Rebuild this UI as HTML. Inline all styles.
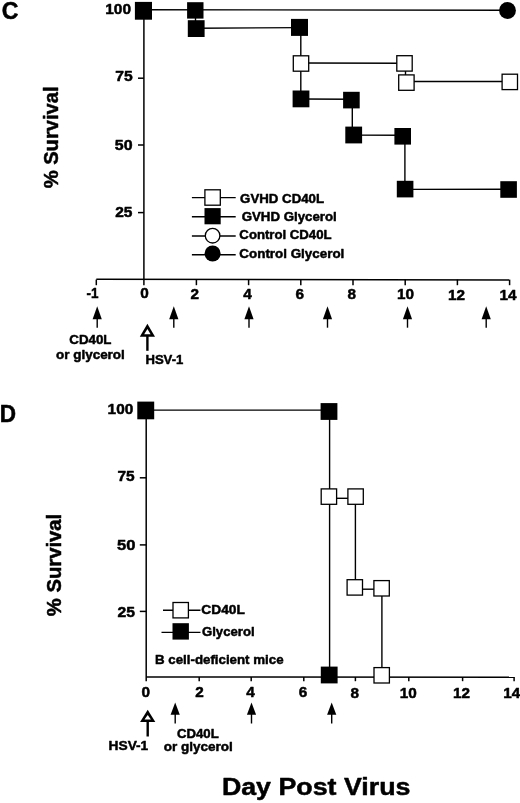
<!DOCTYPE html>
<html><head><meta charset="utf-8"><title>Survival</title>
<style>
html,body{margin:0;padding:0;background:#fff;}
svg{display:block;}
text{font-family:"Liberation Sans", Arial, Helvetica, sans-serif;font-weight:bold;fill:#000;stroke:#000;stroke-width:0.5px;stroke-linejoin:round;}
.l{stroke:#000;stroke-width:1.4;fill:none;}
.ax{stroke:#000;stroke-width:1.5;fill:none;}
.fs{fill:#000;stroke:none;}
.os{fill:#fff;stroke:#000;stroke-width:1.3;}
</style></head><body>
<svg width="520" height="803" viewBox="0 0 520 803">
<rect width="520" height="803" fill="#fff"/>
<text transform="translate(1.67,19.20) scale(0.9740,1)" font-size="23.8">C</text>
<line class="ax" x1="143.9" y1="9.5" x2="143.9" y2="285.2"/>
<line class="ax" x1="96.3" y1="279.3" x2="509.5" y2="279.9"/>
<line class="ax" x1="96.3" y1="279.6" x2="96.3" y2="285.2"/>
<line class="ax" x1="196.4" y1="279.6" x2="196.4" y2="285.2"/>
<line class="ax" x1="248.6" y1="279.6" x2="248.6" y2="285.2"/>
<line class="ax" x1="300.8" y1="279.6" x2="300.8" y2="285.2"/>
<line class="ax" x1="353.0" y1="279.6" x2="353.0" y2="285.2"/>
<line class="ax" x1="405.2" y1="279.6" x2="405.2" y2="285.2"/>
<line class="ax" x1="457.4" y1="279.6" x2="457.4" y2="285.2"/>
<line class="ax" x1="509.6" y1="279.6" x2="509.6" y2="285.2"/>
<line class="ax" x1="138.0" y1="78.2" x2="143.9" y2="78.2"/>
<line class="ax" x1="138.0" y1="145.0" x2="143.9" y2="145.0"/>
<line class="ax" x1="138.0" y1="212.6" x2="143.9" y2="212.6"/>
<text transform="translate(105.27,14.10) scale(1.0303,1)" font-size="15.0">100</text>
<text transform="translate(115.37,81.00) scale(1.0451,1)" font-size="15.0">75</text>
<text transform="translate(114.82,150.30) scale(1.0642,1)" font-size="15.0">50</text>
<text transform="translate(115.13,217.10) scale(1.0352,1)" font-size="15.0">25</text>
<text transform="translate(86.60,298.30) scale(0.8964,1)" font-size="15.0">-1</text>
<text transform="translate(140.29,298.40) scale(1.0200,1)" font-size="15.0">0</text>
<text transform="translate(190.59,298.60) scale(1.0200,1)" font-size="15.0">2</text>
<text transform="translate(243.34,298.80) scale(1.0200,1)" font-size="15.0">4</text>
<text transform="translate(295.59,299.00) scale(1.0200,1)" font-size="15.0">6</text>
<text transform="translate(347.42,299.20) scale(1.0200,1)" font-size="15.0">8</text>
<text transform="translate(396.91,299.41) scale(1.0200,1)" font-size="15.0">10</text>
<text transform="translate(447.91,299.60) scale(1.0200,1)" font-size="15.0">12</text>
<text transform="translate(499.60,299.80) scale(1.0200,1)" font-size="15.0">14</text>
<text transform="translate(57.70,188.30) rotate(-90) scale(1.0070,1)" font-size="20.0">% Survival</text>
<line class="l" x1="143.9" y1="9.7" x2="507.0" y2="10.3"/>
<line class="l" x1="195.5" y1="10.0" x2="195.5" y2="28.6"/>
<line class="l" x1="196.0" y1="28.3" x2="300.0" y2="27.6"/>
<line class="l" x1="300.8" y1="27.0" x2="300.8" y2="100.0"/>
<line class="l" x1="301.0" y1="99.0" x2="351.5" y2="99.2"/>
<line class="l" x1="352.3" y1="100.0" x2="352.3" y2="135.0"/>
<line class="l" x1="353.0" y1="135.1" x2="403.0" y2="135.3"/>
<line class="l" x1="404.9" y1="136.0" x2="404.9" y2="189.0"/>
<line class="l" x1="405.0" y1="189.4" x2="508.0" y2="189.3"/>
<line class="l" x1="301.0" y1="63.0" x2="404.0" y2="63.2"/>
<line class="l" x1="405.5" y1="63.0" x2="405.5" y2="82.0"/>
<line class="l" x1="406.0" y1="81.5" x2="509.0" y2="81.5"/>
<rect class="fs" x="134.9" y="1.9" width="17.1" height="17.8"/>
<rect class="fs" x="187.1" y="2.2" width="16.4" height="16.4"/>
<rect class="fs" x="187.8" y="20.2" width="16.8" height="16.8"/>
<rect class="fs" x="291.0" y="18.9" width="17.0" height="17.0"/>
<rect class="fs" x="292.6" y="90.5" width="16.8" height="16.8"/>
<rect class="fs" x="343.1" y="91.8" width="16.6" height="16.6"/>
<rect class="fs" x="345.3" y="126.6" width="16.8" height="16.8"/>
<rect class="fs" x="394.4" y="128.0" width="16.6" height="16.6"/>
<rect class="fs" x="396.8" y="180.8" width="16.6" height="16.6"/>
<rect class="fs" x="500.3" y="181.2" width="16.6" height="16.6"/>
<rect class="os" x="293.3" y="55.8" width="15.4" height="15.4"/>
<rect class="os" x="396.8" y="55.7" width="15.4" height="15.4"/>
<rect class="os" x="398.7" y="74.9" width="15.4" height="15.4"/>
<rect class="os" x="502.1" y="74.2" width="15.4" height="15.4"/>
<circle cx="507.5" cy="10.5" r="8.4" fill="#000"/>
<line class="l" x1="191.9" y1="197.6" x2="235.7" y2="197.6"/>
<text transform="translate(240.07,202.70) scale(0.9835,1)" font-size="13.5">GVHD CD40L</text>
<line class="l" x1="191.9" y1="216.8" x2="235.7" y2="216.8"/>
<text transform="translate(241.67,221.00) scale(0.9840,1)" font-size="13.5">GVHD Glycerol</text>
<line class="l" x1="191.9" y1="236.0" x2="235.7" y2="236.0"/>
<text transform="translate(239.37,238.90) scale(0.9767,1)" font-size="13.5">Control CD40L</text>
<line class="l" x1="191.9" y1="254.8" x2="235.7" y2="254.8"/>
<text transform="translate(239.36,257.70) scale(0.9932,1)" font-size="13.5">Control Glycerol</text>
<rect class="os" x="204.9" y="189.8" width="15.4" height="15.4"/>
<rect class="fs" x="204.5" y="208.1" width="16.2" height="16.2"/>
<circle cx="212.6" cy="235.7" r="7.3" class="os"/>
<circle cx="212.6" cy="253.5" r="8" fill="#000"/>
<path d="M97.2 306.3 L92.6 319.2 L101.8 319.2 Z" fill="#000"/>
<line class="l" x1="97.2" y1="318.2" x2="97.2" y2="327.7"/>
<path d="M173.8 306.3 L169.2 319.2 L178.4 319.2 Z" fill="#000"/>
<line class="l" x1="173.8" y1="318.2" x2="173.8" y2="327.7"/>
<path d="M249.0 306.3 L244.4 319.2 L253.6 319.2 Z" fill="#000"/>
<line class="l" x1="249.0" y1="318.2" x2="249.0" y2="327.7"/>
<path d="M327.5 306.3 L322.9 319.2 L332.1 319.2 Z" fill="#000"/>
<line class="l" x1="327.5" y1="318.2" x2="327.5" y2="327.7"/>
<path d="M407.5 306.3 L402.9 319.2 L412.1 319.2 Z" fill="#000"/>
<line class="l" x1="407.5" y1="318.2" x2="407.5" y2="327.7"/>
<path d="M486.2 306.3 L481.6 319.2 L490.8 319.2 Z" fill="#000"/>
<line class="l" x1="486.2" y1="318.2" x2="486.2" y2="327.7"/>
<line x1="147.4" y1="335.6" x2="147.4" y2="350.8" stroke="#000" stroke-width="2.4"/>
<path d="M147.4 323.7 L139.8 336.8 L155.0 336.8 Z" fill="#000"/>
<path d="M147.4 329.0 L144.2 334.3 L150.6 334.3 Z" fill="#fff"/>
<text transform="translate(69.27,343.80) scale(0.9871,1)" font-size="13.5">CD40L</text>
<text transform="translate(56.00,358.60) scale(0.9985,1)" font-size="13.5">or glycerol</text>
<text transform="translate(145.41,364.00) scale(0.9722,1)" font-size="13.5">HSV-1</text>
<text transform="translate(-0.15,422.20) scale(0.9470,1)" font-size="23.8">D</text>
<line class="ax" x1="146.2" y1="410.0" x2="146.2" y2="681.2"/>
<line class="ax" x1="146.2" y1="676.9" x2="514.2" y2="677.3"/>
<line class="ax" x1="199.2" y1="677.0" x2="199.2" y2="681.2"/>
<line class="ax" x1="251.2" y1="677.0" x2="251.2" y2="681.2"/>
<line class="ax" x1="303.8" y1="677.0" x2="303.8" y2="681.2"/>
<line class="ax" x1="355.4" y1="677.0" x2="355.4" y2="681.2"/>
<line class="ax" x1="408.8" y1="677.0" x2="408.8" y2="681.2"/>
<line class="ax" x1="462.6" y1="677.0" x2="462.6" y2="681.2"/>
<line class="ax" x1="514.1" y1="677.0" x2="514.1" y2="681.2"/>
<line class="ax" x1="139.8" y1="477.8" x2="146.2" y2="477.8"/>
<line class="ax" x1="139.8" y1="544.9" x2="146.2" y2="544.9"/>
<line class="ax" x1="139.8" y1="611.4" x2="146.2" y2="611.4"/>
<text transform="translate(107.58,413.50) scale(1.0400,1)" font-size="14.8">100</text>
<text transform="translate(117.38,480.80) scale(1.0463,1)" font-size="14.8">75</text>
<text transform="translate(117.10,549.90) scale(1.1174,1)" font-size="14.8">50</text>
<text transform="translate(117.53,616.60) scale(1.0620,1)" font-size="14.8">25</text>
<text transform="translate(141.39,697.00) scale(1.0200,1)" font-size="15.0">0</text>
<text transform="translate(195.19,697.13) scale(1.0200,1)" font-size="15.0">2</text>
<text transform="translate(246.24,697.26) scale(1.0200,1)" font-size="15.0">4</text>
<text transform="translate(298.79,697.38) scale(1.0200,1)" font-size="15.0">6</text>
<text transform="translate(350.52,697.51) scale(1.0200,1)" font-size="15.0">8</text>
<text transform="translate(399.81,697.64) scale(1.0200,1)" font-size="15.0">10</text>
<text transform="translate(453.11,697.77) scale(1.0200,1)" font-size="15.0">12</text>
<text transform="translate(503.30,697.90) scale(1.0200,1)" font-size="15.0">14</text>
<text transform="translate(61.00,616.20) rotate(-90) scale(1.0120,1)" font-size="20.0">% Survival</text>
<line class="l" x1="146.2" y1="410.1" x2="329.0" y2="410.1"/>
<line class="l" x1="329.6" y1="410.0" x2="329.6" y2="675.0"/>
<line class="l" x1="329.0" y1="498.3" x2="355.5" y2="498.3"/>
<line class="l" x1="355.4" y1="497.0" x2="355.4" y2="588.0"/>
<line class="l" x1="355.0" y1="589.2" x2="381.5" y2="589.2"/>
<line class="l" x1="381.9" y1="589.0" x2="381.9" y2="675.0"/>
<rect class="fs" x="137.3" y="401.6" width="16.9" height="17.7"/>
<rect class="fs" x="320.6" y="403.1" width="16.8" height="16.8"/>
<rect class="fs" x="320.8" y="666.6" width="16.8" height="16.8"/>
<rect class="os" x="321.2" y="488.9" width="15.4" height="15.4"/>
<rect class="os" x="347.9" y="488.9" width="15.4" height="15.4"/>
<rect class="os" x="347.1" y="579.7" width="15.4" height="15.4"/>
<rect class="os" x="373.9" y="580.6" width="15.4" height="15.4"/>
<rect class="os" x="374.0" y="667.6" width="15.4" height="15.4"/>
<line class="l" x1="163.0" y1="610.2" x2="200.5" y2="610.2"/>
<line class="l" x1="161.5" y1="632.4" x2="200.5" y2="632.4"/>
<rect class="os" x="173.0" y="602.5" width="15.4" height="15.4"/>
<rect class="fs" x="172.5" y="623.2" width="16.4" height="16.4"/>
<text transform="translate(201.35,613.90) scale(1.0181,1)" font-size="13.5">CD40L</text>
<text transform="translate(201.97,636.10) scale(0.9758,1)" font-size="13.5">Glycerol</text>
<text transform="translate(155.00,664.00) scale(0.9855,1)" font-size="13.5">B cell-deficient mice</text>
<path d="M175.2 702.4 L170.6 714.8 L179.8 714.8 Z" fill="#000"/>
<line class="l" x1="175.2" y1="713.8" x2="175.2" y2="723.5"/>
<path d="M251.5 702.4 L246.9 714.8 L256.1 714.8 Z" fill="#000"/>
<line class="l" x1="251.5" y1="713.8" x2="251.5" y2="723.5"/>
<path d="M331.7 702.4 L327.1 714.8 L336.3 714.8 Z" fill="#000"/>
<line class="l" x1="331.7" y1="713.8" x2="331.7" y2="723.5"/>
<line x1="147.7" y1="720.9" x2="147.7" y2="736.5" stroke="#000" stroke-width="2.4"/>
<path d="M147.7 709.8 L140.1 722.1 L155.3 722.1 Z" fill="#000"/>
<path d="M147.7 715.1 L144.5 719.6 L150.9 719.6 Z" fill="#fff"/>
<text transform="translate(108.58,749.80) scale(1.0171,1)" font-size="13.5">HSV-1</text>
<text transform="translate(176.97,737.70) scale(0.9776,1)" font-size="13.5">CD40L</text>
<text transform="translate(163.69,751.20) scale(1.0014,1)" font-size="13.5">or glycerol</text>
<text transform="translate(221.89,795.40) scale(1.0889,1)" font-size="24.6">Day Post Virus</text>
</svg>
</body></html>
